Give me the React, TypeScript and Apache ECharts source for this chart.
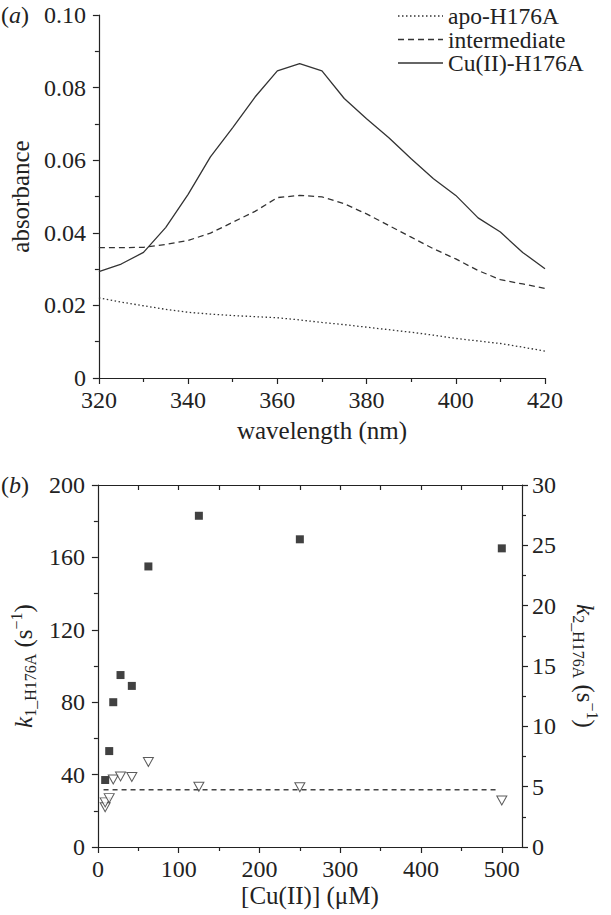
import React, { useEffect, useRef } from "react";
import * as echarts from "echarts";

// ---- Panel (a): absorbance spectra ----
const wavelengths = [320, 325, 330, 335, 340, 345, 350, 355, 360, 365, 370, 375, 380, 385, 390, 395, 400, 405, 410, 415, 420];
const apoValues = [0.0221, 0.0209, 0.0199, 0.0189, 0.0181, 0.0176, 0.0172, 0.0169, 0.0166, 0.016, 0.0153, 0.0147, 0.014, 0.0133, 0.0126, 0.0118, 0.0109, 0.0102, 0.0095, 0.0085, 0.0074];
const intermediateValues = [0.0359, 0.0359, 0.036, 0.0368, 0.0379, 0.0399, 0.0429, 0.0459, 0.0497, 0.0503, 0.0499, 0.048, 0.0452, 0.042, 0.0388, 0.0356, 0.0328, 0.0296, 0.0271, 0.0259, 0.0247];
const cuValues = [0.0293, 0.0314, 0.0346, 0.0415, 0.0506, 0.0609, 0.069, 0.0774, 0.0846, 0.0866, 0.0846, 0.077, 0.0714, 0.0662, 0.0604, 0.0549, 0.0503, 0.0441, 0.0402, 0.0346, 0.0301];
const seriesNamesA = ["apo-H176A", "intermediate", "Cu(II)-H176A"];

// ---- Panel (b): rate constants ----
const k1Conc = [9, 14, 19, 28, 42, 62.5, 125, 250, 500];
const k1Values = [37, 53, 80, 95, 89, 155, 183, 170, 165];
const k2Conc = [9, 9, 14, 19, 28, 42, 62.5, 125, 250, 500];
const k2Values = [3.3, 3.7, 4.05, 5.6, 5.85, 5.8, 7.05, 5.0, 4.95, 3.85];
const fitLineX = [7, 495];
const fitLineY = [4.75, 4.75];
const cuTickValues = [0, 100, 200, 300, 400, 500];
const cuMinorTicks = [50, 150, 250, 350, 450];
const cuTopTicks = [50, 100, 150, 200, 250, 300, 350, 400, 450, 500];

const FONT = "'Liberation Serif', 'Times New Roman', Times, serif";
const INK = "#222";

const txt = { fontFamily: FONT, fontSize: 24, color: INK };
const nameTxt = { fontFamily: FONT, fontSize: 25, color: INK };
const axisLineStyle = { color: INK, width: 1.2 };

const lineDashes: any[] = [[1.5, 2.5], [6, 4], null];

const richName = {
  ...nameTxt,
  lineHeight: 30,
  rich: {
    k: { fontFamily: FONT, fontSize: 25, fontStyle: "italic", color: INK, lineHeight: 30 },
    sub: { fontFamily: FONT, fontSize: 16, color: INK, lineHeight: 14, verticalAlign: "bottom" },
    sup: { fontFamily: FONT, fontSize: 16, color: INK, lineHeight: 14, verticalAlign: "top" },
  },
};

export default function App() {
  const ref = useRef<HTMLDivElement>(null);
  useEffect(() => {
    const chart = echarts.init(ref.current!, null, { renderer: "svg" });
    const toPairs = (xs: number[], ys: number[]) => xs.map((x, i) => [x, ys[i]]);

    const legendChildren: any[] = [];
    seriesNamesA.forEach((nm, i) => {
      const y = 16 + i * 23.5;
      legendChildren.push({
        type: "line",
        shape: { x1: 398, y1: y, x2: 443, y2: y },
        style: { stroke: "#333", lineWidth: 1.3, lineDash: lineDashes[i] || undefined },
      });
      legendChildren.push({
        type: "text",
        x: 448,
        y: y,
        style: { text: nm, fontFamily: FONT, fontSize: 23.5, lineHeight: 21, fill: INK, verticalAlign: "middle" },
      });
    });

    const option: any = {
      animation: false,
      backgroundColor: "#fff",
      grid: [
        { left: 95, top: 15, width: 450, height: 363 },
        { left: 96, top: 485, width: 426, height: 362 },
      ],
      graphic: [
        { type: "group", children: legendChildren },
        {
          type: "text",
          x: 1,
          y: 15,
          style: {
            text: "({i|a})",
            fontFamily: FONT,
            fontSize: 24,
            fill: INK,
            verticalAlign: "middle",
            rich: { i: { fontStyle: "italic", fontFamily: FONT, fontSize: 24, fill: INK } },
          },
        },
        {
          type: "text",
          x: 1,
          y: 485,
          style: {
            text: "({i|b})",
            fontFamily: FONT,
            fontSize: 24,
            fill: INK,
            verticalAlign: "middle",
            rich: { i: { fontStyle: "italic", fontFamily: FONT, fontSize: 24, fill: INK } },
          },
        },
      ],
      xAxis: [
        {
          gridIndex: 0,
          type: "value",
          min: 320,
          max: 420,
          interval: 20,
          axisLine: { show: true, onZero: false, lineStyle: axisLineStyle },
          axisTick: { show: true, inside: false, length: 6, lineStyle: axisLineStyle },
          minorTick: { show: true, splitNumber: 2, length: 4, lineStyle: axisLineStyle },
          axisLabel: { ...txt, margin: 10 },
          splitLine: { show: false },
          name: "wavelength (nm)",
          nameLocation: "middle",
          nameGap: 40,
          nameTextStyle: nameTxt,
        },
        {
          gridIndex: 1,
          type: "value",
          position: "bottom",
          min: 0,
          max: 525,
          interval: 100,
          axisLine: { show: true, onZero: false, lineStyle: axisLineStyle },
          axisTick: { show: true, inside: false, length: 6, lineStyle: axisLineStyle, customValues: cuTickValues },
          axisLabel: { ...txt, margin: 10, customValues: cuTickValues },
          splitLine: { show: false },
          name: "[Cu(II)] (μM)",
          nameLocation: "middle",
          nameGap: 36,
          nameTextStyle: nameTxt,
        },
        {
          gridIndex: 1,
          type: "value",
          position: "top",
          min: 0,
          max: 525,
          axisLine: { show: true, onZero: false, lineStyle: axisLineStyle },
          axisTick: { show: true, inside: true, length: 5, lineStyle: axisLineStyle, customValues: cuTopTicks },
          axisLabel: { show: false },
          splitLine: { show: false },
        },
        {
          gridIndex: 1,
          type: "value",
          position: "bottom",
          min: 0,
          max: 525,
          axisLine: { show: false, onZero: false },
          axisTick: { show: true, inside: false, length: 4, lineStyle: axisLineStyle, customValues: cuMinorTicks },
          axisLabel: { show: false },
          splitLine: { show: false },
        },
      ],
      yAxis: [
        {
          gridIndex: 0,
          type: "value",
          min: 0,
          max: 0.1,
          interval: 0.02,
          axisLine: { show: true, onZero: false, lineStyle: axisLineStyle },
          axisTick: { show: true, inside: false, length: 6, lineStyle: axisLineStyle },
          minorTick: { show: true, splitNumber: 2, length: 4, lineStyle: axisLineStyle },
          axisLabel: { ...txt, margin: 13, formatter: (v: number) => (v === 0 ? "0" : v.toFixed(2)) },
          splitLine: { show: false },
          name: "absorbance",
          nameLocation: "middle",
          nameRotate: 90,
          nameGap: 62,
          nameTextStyle: nameTxt,
        },
        {
          gridIndex: 1,
          type: "value",
          position: "left",
          min: 0,
          max: 200,
          interval: 40,
          axisLine: { show: true, onZero: false, lineStyle: axisLineStyle },
          axisTick: { show: true, inside: false, length: 6, lineStyle: axisLineStyle },
          minorTick: { show: true, splitNumber: 2, length: 4, lineStyle: axisLineStyle },
          axisLabel: { ...txt, margin: 13 },
          splitLine: { show: false },
          name: "{k|k}{sub|1_H176A} (s{sup|−1})",
          nameLocation: "middle",
          nameRotate: 90,
          nameGap: 52,
          nameTextStyle: richName,
        },
        {
          gridIndex: 1,
          type: "value",
          position: "right",
          min: 0,
          max: 30,
          interval: 5,
          axisLine: { show: true, onZero: false, lineStyle: axisLineStyle },
          axisTick: { show: true, inside: false, length: 6, lineStyle: axisLineStyle },
          minorTick: { show: true, splitNumber: 2, length: 4, lineStyle: axisLineStyle },
          axisLabel: { ...txt, margin: 10 },
          splitLine: { show: false },
          name: "{k|k}{sub|2_H176A} (s{sup|−1})",
          nameLocation: "middle",
          nameRotate: -90,
          nameGap: 48,
          nameTextStyle: richName,
        },
      ],
      series: [
        {
          name: seriesNamesA[0],
          type: "line",
          xAxisIndex: 0,
          yAxisIndex: 0,
          symbol: "none",
          data: toPairs(wavelengths, apoValues),
          lineStyle: { color: "#333", width: 1.3, type: lineDashes[0] },
        },
        {
          name: seriesNamesA[1],
          type: "line",
          xAxisIndex: 0,
          yAxisIndex: 0,
          symbol: "none",
          data: toPairs(wavelengths, intermediateValues),
          lineStyle: { color: "#333", width: 1.3, type: lineDashes[1] },
        },
        {
          name: seriesNamesA[2],
          type: "line",
          xAxisIndex: 0,
          yAxisIndex: 0,
          symbol: "none",
          data: toPairs(wavelengths, cuValues),
          lineStyle: { color: "#333", width: 1.3, type: "solid" },
        },
        {
          name: "fit",
          type: "line",
          xAxisIndex: 1,
          yAxisIndex: 2,
          symbol: "none",
          data: toPairs(fitLineX, fitLineY),
          lineStyle: { color: "#444", width: 1.5, type: [5, 4] },
        },
        {
          name: "k1",
          type: "scatter",
          xAxisIndex: 1,
          yAxisIndex: 1,
          symbol: "rect",
          symbolSize: 8,
          data: toPairs(k1Conc, k1Values),
          itemStyle: { color: "#111" },
        },
        {
          name: "k2",
          type: "scatter",
          xAxisIndex: 1,
          yAxisIndex: 2,
          symbol: "triangle",
          symbolRotate: 180,
          symbolSize: [10, 9],
          data: toPairs(k2Conc, k2Values),
          itemStyle: { color: "#fff", borderColor: "#333", borderWidth: 1 },
        },
      ],
    };
    chart.setOption(option);
    return () => chart.dispose();
  }, []);
  return (
    <div
      ref={ref}
      style={{ position: "absolute", left: 0, top: 0, width: 611, height: 915, background: "#fff" }}
    />
  );
}
